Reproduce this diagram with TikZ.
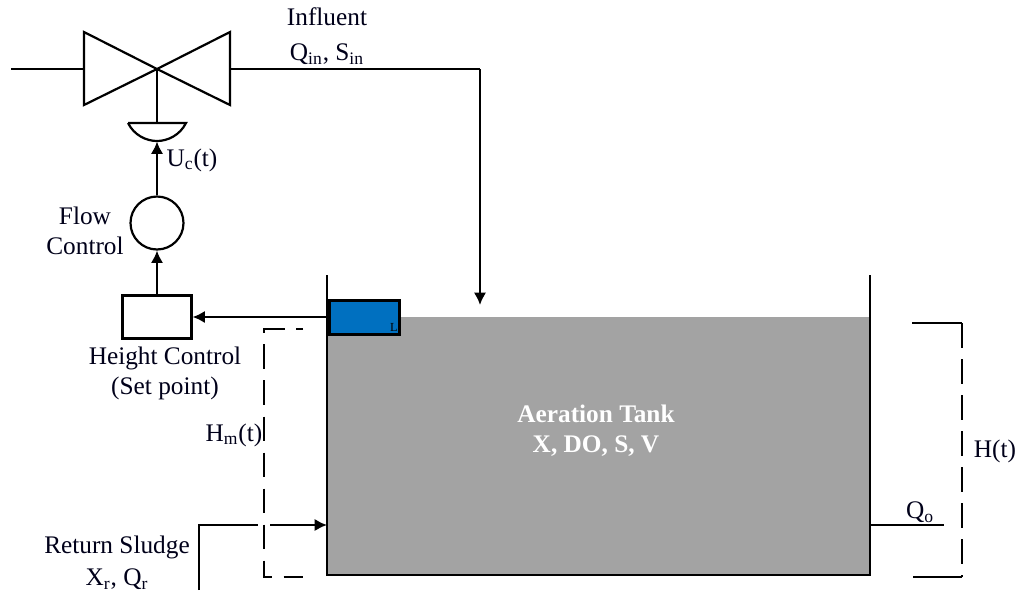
\documentclass[tikz,border=0pt]{standalone}
\usepackage{fontspec}
\setmainfont{Liberation Serif}
\usetikzlibrary{shapes,arrows,arrows.meta,positioning,calc}
\definecolor{sensorblue}{RGB}{0,112,192}

\tikzset{
    pipe/.style={black, line width=1.25pt},
    flow/.style={pipe, -{Latex[length=7pt,width=7pt]}},
    dash line/.style={black, line width=1.25pt, dash pattern=on 14pt off 6.5pt},
    lbl/.style={inner sep=0pt, font=\fontsize{14.4}{16}\selectfont, text=black!90!blue}
}

\begin{document}
\begin{tikzpicture}[x=0.02cm,y=-0.02cm]
    \useasboundingbox (0,0) rectangle (1018,593);

    % Tank
    \fill[black!36] (327,317) rectangle (870,575);
    \coordinate (tankTL) at (327,275);
    \coordinate (tankBL) at (327,575);
    \coordinate (tankBR) at (870,575);
    \coordinate (tankTR) at (870,275);
    \draw[pipe] (tankTL) -- (tankBL) -- (tankBR) -- (tankTR);
    \node[lbl, text=white, font=\fontsize{14.4}{16}\selectfont\bfseries] (tankname) at (596,414) {Aeration Tank};
    \node[lbl, text=white, font=\fontsize{14.4}{16}\selectfont\bfseries] (tankvars) at (596,446) {X, DO, S, V};

    % Level sensor
    \node[draw=black, fill=sensorblue, line width=1.7pt, minimum width=1.4cm, minimum height=0.68cm, inner sep=0pt, anchor=west] (sensor) at (328,317) {};
    \node[inner sep=0pt, font=\fontsize{7}{7}\selectfont] (sensorL) at (394,327) {L};

    % Valve
    \coordinate (valve) at (157,69);
    \coordinate (inL) at (11,69);
    \coordinate (vL) at (84,69);
    \coordinate (vR) at (230,69);
    \coordinate (bend) at (480,69);
    \coordinate (drop) at (480,305);
    \draw[pipe, line join=miter] (84,32) -- (84,105) -- (valve) -- (230,32) -- (230,105) -- (valve) -- cycle;
    \draw[pipe] (inL) -- (vL);
    \draw[pipe] (vR) -- (bend);
    \draw[flow] (bend) -- (drop);

    % Actuator
    \coordinate (actL) at (128,123);
    \coordinate (actR) at (186,123);
    \coordinate (actC) at (157,123);
    \draw[pipe] (actL) -- (actR) .. controls (180,135) and (168,141) .. (157,141) .. controls (146,141) and (134,135) .. (actL);
    \draw[pipe] (valve) -- (actC);

    % Controllers
    \node[draw=black, circle, line width=1.25pt, minimum size=1.06cm, inner sep=0pt] (flowctrl) at (157,223) {};
    \node[draw=black, line width=1.25pt, minimum width=1.38cm, minimum height=0.86cm, inner sep=0pt] (heightctrl) at (157,317) {};
    \coordinate (actB) at (157,141.5);
    \draw[flow] (flowctrl) -- (actB);
    \draw[flow] (heightctrl) -- (flowctrl);
    \draw[flow] (sensor.west) -- (heightctrl.east);

    % Measured height
    \coordinate (hmA) at (303,329);
    \coordinate (hmB) at (264,329);
    \coordinate (hmC) at (264,577);
    \coordinate (hmD) at (303,577);
    \draw[dash line, dash phase=10pt] (hmA) -- (hmB) -- (hmC) -- (hmD);

    % Return sludge
    \coordinate (retA) at (199,590);
    \coordinate (retB) at (199,525);
    \coordinate (retC) at (258,525);
    \coordinate (retD) at (270,525);
    \coordinate (retE) at (327,525);
    \draw[pipe] (retA) -- (retB) -- (retC);
    \draw[flow] (retD) -- (retE);

    % Outlet
    \coordinate (outA) at (870,525);
    \coordinate (outB) at (944,525);
    \draw[pipe] (outA) -- (outB);

    % Total height
    \coordinate (hA) at (912,323);
    \coordinate (hB) at (962,323);
    \coordinate (hC) at (962,577);
    \coordinate (hD) at (913,577);
    \draw[pipe] (hA) -- (hB);
    \draw[pipe] (hC) -- (hD);
    \draw[dash line] (hB) -- (hC);

    % Labels
    \node[lbl] (influent) at (327,17) {Influent};
    \node[lbl] (qin) at (327,54) {Q\textsubscript{in}, S\textsubscript{in}};
    \node[lbl] (uc) at (192,160) {U\textsubscript{c}(t)};
    \node[lbl] (flowA) at (85,216) {Flow};
    \node[lbl] (flowB) at (85,246) {Control};
    \node[lbl] (heightA) at (165,358) {Height Control};
    \node[lbl] (heightB) at (165,388) {(Set point)};
    \node[lbl] (hm) at (234,435) {H\textsubscript{m}(t)};
    \node[lbl] (retname) at (117,547) {Return Sludge};
    \node[lbl] (retvars) at (117,579) {X\textsubscript{r}, Q\textsubscript{r}};
    \node[lbl] (qo) at (920,512) {Q\textsubscript{o}};
    \node[lbl] (ht) at (995,451) {H(t)};
\end{tikzpicture}
\end{document}
